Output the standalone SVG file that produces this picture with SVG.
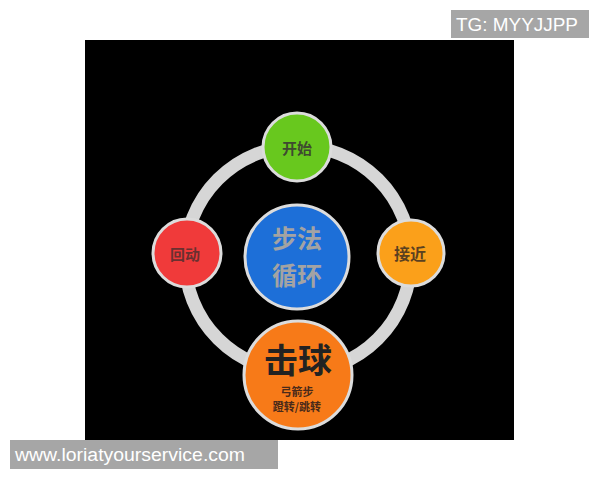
<svg xmlns="http://www.w3.org/2000/svg" width="600" height="480" viewBox="0 0 600 480">
<style>
.node{stroke:#dcdcdc;stroke-width:3}
.cjk{font-family:"Noto Sans CJK SC","Noto Sans CJK TC",sans-serif;font-weight:bold;text-anchor:middle;dominant-baseline:central}
.lbl{font-family:"Liberation Sans",Arial,sans-serif;fill:#ffffff;font-size:18px}
</style>
<rect x="0" y="0" width="600" height="480" fill="#ffffff"/>
<rect x="85" y="40" width="429" height="400" fill="#000000"/>
<g id="connectors">
<circle cx="298" cy="259" r="113" fill="none" stroke="#d6d6d6" stroke-width="13"/>
</g>
<g id="node-start">
<circle class="node" cx="297" cy="147" r="34" fill="#68c81e"/>
<text class="cjk" x="297" y="147" font-size="15" fill="#3e4a30">开始</text>
</g>
<g id="node-return">
<circle class="node" cx="187" cy="253" r="34" fill="#f03a3a"/>
<text class="cjk" x="185" y="253" font-size="15" fill="#6a3030">回动</text>
</g>
<g id="node-approach">
<circle class="node" cx="411" cy="253" r="33" fill="#fba01a"/>
<text class="cjk" x="410" y="253" font-size="16" fill="#5a4020">接近</text>
</g>
<g id="node-center">
<circle class="node" cx="297" cy="257" r="52" fill="#1d6fd8"/>
<text class="cjk" x="297" y="237" font-size="25" fill="#a3a3a3">步法</text>
<text class="cjk" x="297" y="274" font-size="25" fill="#a3a3a3">循环</text>
</g>
<g id="node-hit">
<circle class="node" cx="298" cy="375" r="54" fill="#f77a18"/>
<text class="cjk" x="298" y="358" font-size="34" fill="#222222">击球</text>
<text class="cjk" x="297" y="391" font-size="11" fill="#4a2a1a" font-weight="normal">弓箭步</text>
<text class="cjk" x="297" y="406" font-size="11" fill="#4a2a1a" font-weight="normal">蹬转/跳转</text>
</g>
<g id="watermark-top">
<rect x="451" y="10" width="138" height="28" fill="#a6a6a6"/>
<text class="lbl" x="456" y="31" textLength="122" lengthAdjust="spacingAndGlyphs">TG: MYYJJPP</text>
</g>
<g id="watermark-bottom">
<rect x="10" y="440" width="268" height="29" fill="#a6a6a6"/>
<text class="lbl" x="15" y="461" textLength="230" lengthAdjust="spacingAndGlyphs">www.loriatyourservice.com</text>
</g>
</svg>
